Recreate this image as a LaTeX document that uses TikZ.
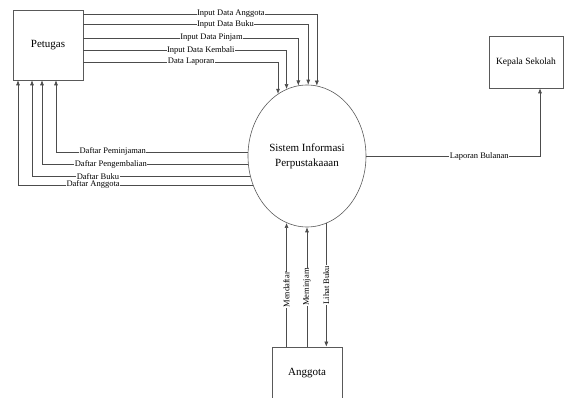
\documentclass[tikz,border=0pt]{standalone}
\usepackage{fontspec}
\setmainfont{Liberation Serif}
\usetikzlibrary{shapes.geometric,arrows.meta,calc}
\begin{document}
\begin{tikzpicture}[x=1pt,y=-1pt,
    box/.style={draw=black!65,line width=0.6pt,inner sep=0pt,font=\fontsize{11}{13}\selectfont},
    proc/.style={ellipse,draw=black!65,line width=0.6pt,minimum width=118,minimum height=142,inner sep=0pt,align=center,font=\fontsize{11}{15}\selectfont},
    flow/.style={draw=black!70,line width=0.6pt,-{Latex[length=5pt,width=4pt]}},
    lbl/.style={fill=white,inner xsep=0.5pt,inner ysep=0pt,font=\fontsize{8.5}{9}\selectfont}]
        \clip (0,0) rectangle (566,398);
        \node[box,minimum width=70,minimum height=70] (petugas) at (48,45) {Petugas};
        \node[proc] (sistem) at (307,156) {Sistem Informasi\\Perpustakaaan};
        \node[box,minimum width=74,minimum height=52,font=\fontsize{9.5}{11}\selectfont] (kepala) at (526,62) {Kepala Sekolah};
        \node[box,minimum width=70,minimum height=52] (anggota) at (307,373) {Anggota};
        \draw[flow] ($(petugas.east)+(0,-31)$) -| node[lbl,pos=0.316]{Input Data Anggota} (sistem.82);
        \draw[flow] ($(petugas.east)+(0,-21)$) -| node[lbl,pos=0.316]{Input Data Buku} (sistem.89);
        \draw[flow] ($(petugas.east)+(0,-7)$) -| node[lbl,pos=0.298]{Input Data Pinjam} (sistem.97);
        \draw[flow] ($(petugas.east)+(0,5)$) -| node[lbl,pos=0.289]{Input Data Kembali} (sistem.107);
        \draw[flow] ($(petugas.east)+(0,17)$) -| node[lbl,pos=0.277]{Data Laporan} (sistem.115);
        \draw[flow] (sistem.176) -| node[lbl,pos=0.352]{Daftar Peminjaman} ($(petugas.south)+(8,0)$);
        \draw[flow] (sistem.188) -| node[lbl,pos=0.333]{Daftar Pengembalian} ($(petugas.south)+(-6,0)$);
        \draw[flow] (sistem.200) -| node[lbl,pos=0.349]{Daftar Buku} ($(petugas.south)+(-16,0)$);
        \draw[flow] (sistem.208) -| node[lbl,pos=0.340]{Daftar Anggota} ($(petugas.south)+(-30,0)$);
        \draw[flow] (sistem.east) -| node[lbl,pos=0.325]{Laporan Bulanan} ($(kepala.south)+(14,0)$);
        \draw[flow] (sistem.253 |- anggota.north) -- node[lbl,rotate=90,pos=0.46]{Mendaftar} (sistem.253);
        \draw[flow] (anggota.north) -- node[lbl,rotate=90]{Meminjam} (sistem.south);
        \draw[flow] (sistem.286) -- node[lbl,rotate=90]{Lihat Buku} (sistem.286 |- anggota.north);
    \end{tikzpicture}
\end{document}
